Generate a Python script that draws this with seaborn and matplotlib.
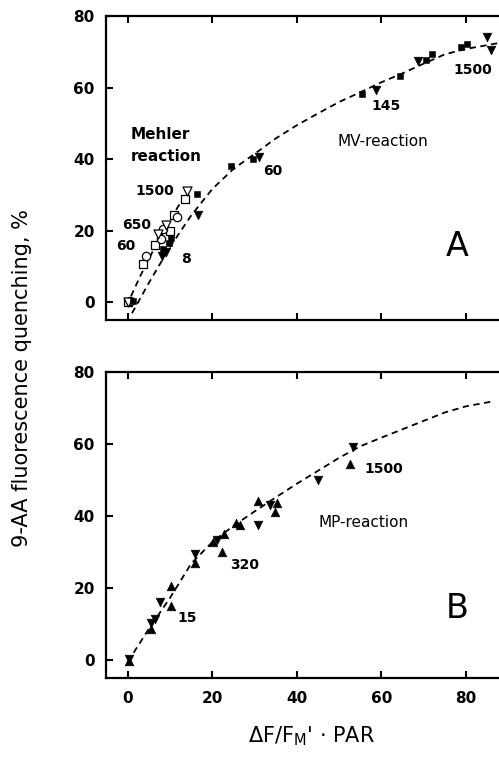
#9-AA fluorescence quenching vs electron transport
import matplotlib
matplotlib.use("Agg")
import matplotlib.pyplot as plt
import seaborn as sns

#panel A - MV reaction (filled symbols)
mv_sq_x = [1.2, 8.4, 9.7, 10.2, 16.4, 24.3, 29.6, 55.4, 64.5, 70.6, 72.0, 78.9, 80.2]
mv_sq_y = [0.3, 15.0, 16.5, 18.0, 30.3, 38.0, 40.0, 58.3, 63.3, 67.6, 69.3, 71.3, 72.2]
mv_tri_x = [8.0, 9.1, 16.6, 31.0, 58.6, 68.6, 84.9, 86.0]
mv_tri_y = [13.0, 14.0, 24.5, 40.7, 59.4, 67.3, 74.0, 70.4]

#panel A - Mehler reaction (open symbols)
meh_sq_x = [0.0, 3.5, 6.4, 9.9, 10.9, 13.5]
meh_sq_y = [0.0, 10.8, 16.0, 20.0, 24.5, 29.0]
meh_ci_x = [0.5, 4.3, 7.9, 8.3, 11.7]
meh_ci_y = [0.5, 13.0, 17.8, 20.5, 23.8]
meh_tri_x = [0.0, 7.2, 9.0, 14.0]
meh_tri_y = [0.0, 19.0, 21.5, 31.0]

#dashed curves
mv_curve_x = [1, 5, 10, 15, 20, 25, 30, 35, 40, 45, 50, 55, 60, 65, 70, 75, 80, 88]
mv_curve_y = [-3, 5.5, 15.5, 24.3, 31.7, 37.3, 41.5, 45.8, 49.5, 52.8, 56.0, 58.7, 61.5, 64.0, 66.7, 69.3, 70.8, 72.5]
meh_curve_x = [-0.3, 3, 6, 9, 12, 13.9]
meh_curve_y = [-1, 7.5, 14.5, 21, 27, 30]

#panel B - MP reaction
mp_up_x = [0.3, 5.4, 10.2, 10.2, 15.8, 20.2, 22.8, 22.4, 25.7, 26.6, 30.8, 35.2, 34.8, 52.6]
mp_up_y = [-0.3, 8.6, 20.5, 15.0, 27.1, 32.7, 35.0, 30.1, 38.0, 37.5, 44.3, 43.5, 41.2, 54.6]
mp_dn_x = [0.3, 5.4, 6.4, 7.6, 15.8, 21.0, 30.8, 33.6, 45.0, 53.3]
mp_dn_y = [0.3, 10.2, 11.3, 16.2, 29.4, 33.3, 37.5, 43.0, 50.0, 59.3]
mp_curve_x = [0, 5, 10, 15, 20, 25, 30, 35, 40, 45, 50, 55, 60, 67.5, 75, 80, 86]
mp_curve_y = [-0.5, 8.7, 17.3, 26.8, 32.8, 37.3, 41.3, 45.2, 49.0, 52.6, 56.2, 59.4, 61.8, 65.3, 68.8, 70.5, 71.8]

#labels (PAR values)
a_labels = ["1500", "650", "60", "8", "60", "145", "1500"]
a_lab_x = [6.5, 2.0, -0.5, 13.7, 34.4, 61.0, 81.6]
a_lab_y = [31.0, 21.7, 15.7, 12.2, 36.8, 55.0, 65.0]
b_labels = ["15", "320", "1500"]
b_lab_x = [14.1, 27.7, 60.5]
b_lab_y = [11.6, 26.4, 53.0]

sns.set_style("ticks")
plt.rcParams['font.family'] = ['DejaVu Sans']
for k in ('text.color', 'axes.labelcolor', 'xtick.color', 'ytick.color', 'axes.edgecolor'):
    plt.rcParams[k] = 'black'

fig = plt.figure(figsize=(4.99, 7.61), dpi=100)
axA = fig.add_axes([0.212, 0.579, 0.788, 0.400])
axB = fig.add_axes([0.212, 0.109, 0.788, 0.402])

dash = (3.5, 2.5)

#panel A
sns.lineplot(x=mv_curve_x, y=mv_curve_y, ax=axA, color='black', lw=1.3, sort=False, estimator=None, linestyle=(0, dash))
sns.lineplot(x=meh_curve_x, y=meh_curve_y, ax=axA, color='black', lw=1.3, sort=False, estimator=None, linestyle=(0, dash))
sns.scatterplot(x=meh_sq_x, y=meh_sq_y, ax=axA, marker='s', s=32, facecolor='white', edgecolor='black', linewidth=0.9, zorder=3)
sns.scatterplot(x=meh_ci_x, y=meh_ci_y, ax=axA, marker='o', s=36, facecolor='white', edgecolor='black', linewidth=0.9, zorder=3)
sns.scatterplot(x=meh_tri_x, y=meh_tri_y, ax=axA, marker='v', s=42, facecolor='white', edgecolor='black', linewidth=0.9, zorder=3)
sns.scatterplot(x=mv_sq_x, y=mv_sq_y, ax=axA, marker='s', s=24, color='black', edgecolor='black', zorder=4)
sns.scatterplot(x=mv_tri_x, y=mv_tri_y, ax=axA, marker='v', s=38, color='black', edgecolor='black', zorder=4)

for t, x, y in zip(a_labels, a_lab_x, a_lab_y):
    axA.text(x, y, t, ha='center', va='center', fontsize=10, fontweight='bold')
axA.text(0.6, 47, "Mehler", ha='left', va='center', fontsize=11, fontweight='bold')
axA.text(0.6, 40.8, "reaction", ha='left', va='center', fontsize=11, fontweight='bold')
axA.text(60.4, 45, "MV-reaction", ha='center', va='center', fontsize=11)
axA.text(77.8, 15.5, "A", ha='center', va='center', fontsize=24)

#panel B
sns.lineplot(x=mp_curve_x, y=mp_curve_y, ax=axB, color='black', lw=1.3, sort=False, estimator=None, linestyle=(0, dash))
sns.scatterplot(x=mp_up_x, y=mp_up_y, ax=axB, marker='^', s=38, color='black', edgecolor='black', zorder=4)
sns.scatterplot(x=mp_dn_x, y=mp_dn_y, ax=axB, marker='v', s=38, color='black', edgecolor='black', zorder=4)
for t, x, y in zip(b_labels, b_lab_x, b_lab_y):
    axB.text(x, y, t, ha='center', va='center', fontsize=10, fontweight='bold')
axB.text(55.8, 38.1, "MP-reaction", ha='center', va='center', fontsize=11)
axB.text(77.8, 14.4, "B", ha='center', va='center', fontsize=24)

for ax in (axA, axB):
    ax.set_xlim(-5.2, 87.8)
    ax.set_ylim(-5, 80)
    ax.set_xticks([0, 20, 40, 60, 80])
    ax.set_yticks([0, 20, 40, 60, 80])
    ax.spines['right'].set_visible(False)
    for s in ('left', 'top', 'bottom'):
        ax.spines[s].set_linewidth(1.6)
        ax.spines[s].set_color('black')
    ax.tick_params(direction='in', length=5, width=1.5, top=True, right=False,
                   labelsize=11, pad=8, colors='black')
    for lab in ax.get_yticklabels() + ax.get_xticklabels():
        lab.set_fontweight('bold')
    ax.set_xlabel('')
    ax.set_ylabel('')
axA.tick_params(labelbottom=False)
axB.tick_params(axis='x', pad=9)

fig.text(0.045, 1 - 378 / 761, "9-AA fluorescence quenching, %", rotation=90,
         ha='center', va='center', fontsize=15)
fig.text(312 / 499, 1 - 736 / 761, r"$\mathregular{\Delta F/F_M}$' $\cdot$ PAR",
         ha='center', va='center', fontsize=15)

fig.savefig("out.png", dpi=100)
